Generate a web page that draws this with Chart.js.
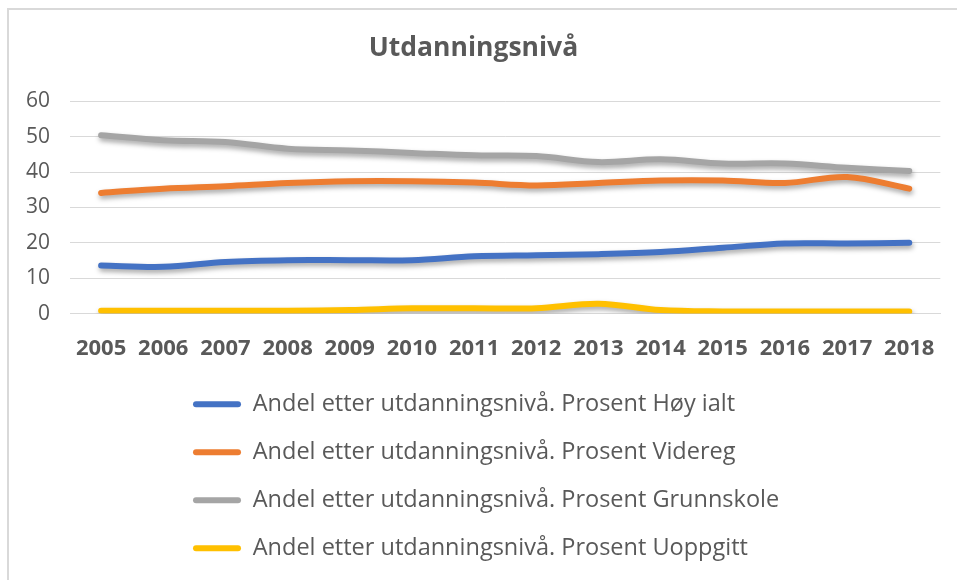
<!DOCTYPE html>
<html>
<head>
<meta charset="utf-8">
<script src="https://cdn.jsdelivr.net/npm/chart.js@4/dist/chart.umd.min.js"></script>
<style>
  html, body { margin: 0; padding: 0; background: #fff; }
  #wrap { position: relative; width: 957px; height: 580px; }
  #frame { position: absolute; left: 7px; top: 8px; right: -10px; bottom: -10px; border-left: 2px solid #d9d9d9; border-top: 2px solid #d9d9d9; }
  canvas { position: absolute; left: 0; top: 0; }
</style>
</head>
<body>
<div id="wrap">
  <div id="frame"></div>
  <canvas id="chart" width="957" height="580"></canvas>
</div>
<script>
const years = ['2005', '2006', '2007', '2008', '2009', '2010', '2011', '2012', '2013', '2014', '2015', '2016', '2017', '2018'];
const hoyIalt = [13.6, 13.2, 14.6, 15.1, 15.1, 15.1, 16.2, 16.5, 16.8, 17.4, 18.6, 19.8, 19.8, 20.0];
const videreg = [34.1, 35.3, 36.0, 36.9, 37.4, 37.4, 37.0, 36.2, 36.9, 37.6, 37.6, 36.9, 38.6, 35.3];
const grunnskole = [50.4, 49.0, 48.5, 46.6, 46.1, 45.4, 44.7, 44.5, 42.8, 43.6, 42.4, 42.4, 41.2, 40.3];
const uoppgitt = [0.8, 0.8, 0.8, 0.8, 1.0, 1.5, 1.5, 1.5, 2.8, 1.0, 0.6, 0.6, 0.6, 0.6];
const seriesNames = [
    'Andel etter utdanningsnivå. Prosent Høy ialt',
    'Andel etter utdanningsnivå. Prosent Videreg',
    'Andel etter utdanningsnivå. Prosent Grunnskole',
    'Andel etter utdanningsnivå. Prosent Uoppgitt'
];
const colors = ['#4472C4', '#ED7D31', '#A5A5A5', '#FFC000'];

const textColor = '#595959';
const fontFamily = '"Open Sans", Lato, sans-serif';

const makeSet = (label, data, color) => ({
    label,
    data,
    borderColor: color,
    backgroundColor: color,
    borderWidth: 6,
    borderCapStyle: 'round',
    tension: 0.35,
    pointRadius: 0,
    pointHoverRadius: 0
});

// soft drop shadow under the lines, like the excel original
const lineShadow = {
    id: 'lineShadow',
    beforeDatasetsDraw(chart) {
        const ctx = chart.ctx;
        ctx.save();
        ctx.shadowColor = 'rgba(0,0,0,0.35)';
        ctx.shadowBlur = 5;
        ctx.shadowOffsetX = 1;
        ctx.shadowOffsetY = 3;
    },
    afterDatasetsDraw(chart) {
        chart.ctx.restore();
    }
};

// legend rows are left aligned at a fixed x in the original
const legendShift = {
    id: 'legendShift',
    afterLayout(chart) {
        const pad = chart.options.plugins.legend.labels.padding;
        chart.legend.left = 193 - pad;
    }
};

new Chart(document.getElementById('chart'), {
    type: 'line',
    data: {
        labels: years,
        datasets: [
            makeSet(seriesNames[0], hoyIalt, colors[0]),
            makeSet(seriesNames[1], videreg, colors[1]),
            makeSet(seriesNames[2], grunnskole, colors[2]),
            makeSet(seriesNames[3], uoppgitt, colors[3])
        ]
    },
    options: {
        responsive: false,
        animation: false,
        layout: { padding: { left: 6, right: 16, top: 0, bottom: 10 } },
        plugins: {
            title: {
                display: true,
                text: 'Utdanningsnivå',
                color: textColor,
                font: { family: fontFamily, size: 26.5, weight: 'bold' },
                padding: { top: 33, bottom: 36.4 }
            },
            legend: {
                position: 'bottom',
                align: 'start',
                labels: {
                    color: textColor,
                    font: { family: fontFamily, size: 23.5 },
                    boxWidth: 48,
                    boxHeight: 6,
                    padding: 24.5,
                    useBorderRadius: true,
                    borderRadius: 3,
                    generateLabels(chart) {
                        const items = Chart.defaults.plugins.legend.labels.generateLabels(chart);
                        return items.map(it => ({ ...it, lineWidth: 0, fillStyle: it.strokeStyle }));
                    }
                }
            },
            tooltip: { enabled: false }
        },
        scales: {
            x: {
                offset: true,
                grid: { display: false, drawTicks: false },
                border: { display: true, color: '#d9d9d9', width: 1 },
                ticks: {
                    color: textColor,
                    padding: 22,
                    font: { family: fontFamily, size: 22, weight: 'bold' }
                },
                afterFit(scale) { scale.height -= 16; }
            },
            y: {
                min: 0,
                max: 60,
                grid: { color: '#d9d9d9', lineWidth: 1, drawTicks: false },
                border: { display: false },
                ticks: {
                    stepSize: 10,
                    color: textColor,
                    padding: 20,
                    font: { family: fontFamily, size: 21 }
                }
            }
        }
    },
    plugins: [lineShadow, legendShift]
});
</script>
</body>
</html>
